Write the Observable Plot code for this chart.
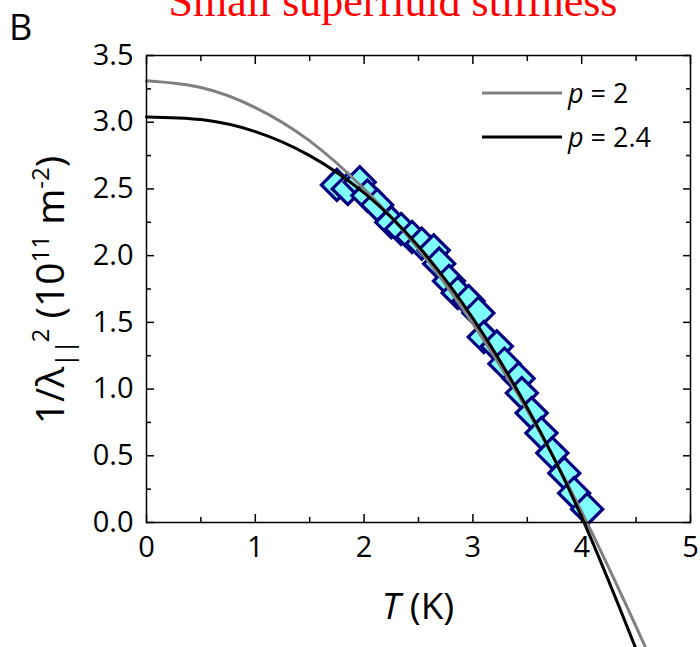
<!DOCTYPE html>
<html><head><meta charset="utf-8">
<script src="https://cdn.jsdelivr.net/npm/d3@7"></script>
<script src="https://cdn.jsdelivr.net/npm/@observablehq/plot@0.6"></script>
<style>
body{margin:0;background:#fff;overflow:hidden}
#wrap{position:relative;width:700px;height:647px;overflow:hidden;background:#fff}
</style></head><body><div id="wrap"></div>
<script>
// measured data: temperature (K) and superfluid stiffness 1/λ² (10^11 m^-2)
const dataT = [1.75, 1.85, 1.96, 2.03, 2.12, 2.25, 2.34, 2.44, 2.53, 2.64, 2.69, 2.78, 2.86, 2.96, 3.05, 3.10, 3.22, 3.29, 3.42, 3.45, 3.54, 3.63, 3.73, 3.84, 3.93, 4.05];
const dataV = [2.53, 2.50, 2.55, 2.45, 2.38, 2.25, 2.20, 2.14, 2.09, 2.04, 1.94, 1.81, 1.72, 1.66, 1.57, 1.39, 1.32, 1.19, 1.08, 0.97, 0.82, 0.67, 0.52, 0.37, 0.22, 0.10];
// fit curves
const fitT2 = [0, 0.5, 1, 1.5, 2, 2.5, 3, 3.5, 4, 4.5, 4.7];
const fitV2 = [3.31, 3.26, 3.11, 2.86, 2.50, 2.05, 1.49, 0.84, 0.08, -0.78, -1.15];
const fitT24 = [0, 0.5, 1, 1.5, 2, 2.5, 3, 3.5, 4, 4.5, 4.6];
const fitV24 = [3.04, 3.02, 2.93, 2.75, 2.47, 2.07, 1.53, 0.86, 0.04, -0.95, -1.16];
// ticks
const xMajor = [0, 1, 2, 3, 4, 5];
const xMinor = [0.5, 1.5, 2.5, 3.5, 4.5];
const yMajor = [0, 0.5, 1, 1.5, 2, 2.5, 3, 3.5];
const yMinor = [0.25, 0.75, 1.25, 1.75, 2.25, 2.75, 3.25];
const legendLabels = ["2", "2.4"];
const legendColors = ["#808080", "#000000"];

const points = dataT.map((t, i) => ({T: t, v: dataV[i]}));
const curve2 = fitT2.map((t, i) => ({T: t, v: fitV2[i]}));
const curve24 = fitT24.map((t, i) => ({T: t, v: fitV24[i]}));

const font = "'Open Sans', sans-serif";
const tickFS = 29;

const chart = Plot.plot({
  width: 700, height: 647,
  marginLeft: 146, marginRight: 10, marginTop: 55, marginBottom: 125,
  style: {fontFamily: font, fontSize: tickFS + "px", color: "black", background: "white", overflow: "visible"},
  x: {domain: [0, 5], label: null},
  y: {domain: [0, 3.5], label: null},
  marks: [
    Plot.dot(points, {x: "T", y: "v", symbol: "diamond2", r: 14, fill: "#80ffff", stroke: "#000080", strokeWidth: 3.2}),
    Plot.line(curve2, {x: "T", y: "v", stroke: legendColors[0], strokeWidth: 3, curve: "natural"}),
    Plot.line(curve24, {x: "T", y: "v", stroke: legendColors[1], strokeWidth: 3, curve: "natural"}),
    Plot.frame({stroke: "black", strokeWidth: 1.5}),
    // bottom axis
    Plot.axisX({ticks: xMajor, tickSize: -8, strokeWidth: 1.5, text: null}),
    Plot.axisX({ticks: xMinor, tickSize: -5, strokeWidth: 1.5, text: null}),
    Plot.axisX({ticks: xMajor, tickSize: 0, tickPadding: 14, fontSize: tickFS, tickFormat: d3.format("d"), label: null}),
    // top axis
    Plot.axisX({anchor: "top", ticks: xMajor, tickSize: -8, strokeWidth: 1.5, text: null, label: null}),
    Plot.axisX({anchor: "top", ticks: xMinor, tickSize: -5, strokeWidth: 1.5, text: null, label: null}),
    // left axis
    Plot.axisY({ticks: yMajor, tickSize: -8, strokeWidth: 1.5, text: null}),
    Plot.axisY({ticks: yMinor, tickSize: -5, strokeWidth: 1.5, text: null}),
    Plot.axisY({ticks: yMajor, tickSize: 0, tickPadding: 13, fontSize: tickFS, tickFormat: d3.format(".1f"), label: null}),
    // right axis
    Plot.axisY({anchor: "right", ticks: yMajor, tickSize: -8, strokeWidth: 1.5, text: null, label: null}),
    Plot.axisY({anchor: "right", ticks: yMinor, tickSize: -5, strokeWidth: 1.5, text: null, label: null})
  ]
});
document.getElementById("wrap").appendChild(chart);

const svg = d3.select(chart);
// title
svg.append("text").attr("x", 393).attr("y", 16).attr("text-anchor", "middle")
  .attr("font-family", "'Liberation Serif', 'Times New Roman', serif").attr("font-size", 44).attr("fill", "red")
  .text("Small superfluid stiffness");
// panel letter
svg.append("text").attr("x", 9).attr("y", 40).attr("text-anchor", "start").attr("font-family", font).attr("font-size", 36).attr("fill", "black").text("B");
// x title
const xt = svg.append("text").attr("x", 418).attr("y", 619).attr("text-anchor", "middle")
  .attr("font-family", font).attr("font-size", 37).attr("fill", "black");
xt.append("tspan").attr("font-style", "italic").text("T");
xt.append("tspan").text(" (K)");
// y title
const yt = svg.append("text").attr("transform", "translate(64,290) rotate(-90)").attr("text-anchor", "middle")
  .attr("font-family", font).attr("font-size", 39).attr("fill", "black");
yt.append("tspan").text("1/λ");
yt.append("tspan").attr("font-size", 24).attr("dy", 9).text("||");
yt.append("tspan").attr("font-size", 24).attr("dy", -24).attr("dx", -2).text("2");
yt.append("tspan").attr("dy", 15).text(" (10");
yt.append("tspan").attr("font-size", 24).attr("dy", -15).text("11");
yt.append("tspan").attr("dy", 15).text(" m");
yt.append("tspan").attr("font-size", 24).attr("dy", -15).text("-2");
yt.append("tspan").attr("dy", 15).text(")");
// legend
legendLabels.forEach((lab, i) => {
  const y = 93 + i * 44;
  svg.append("line").attr("x1", 482).attr("x2", 562).attr("y1", y).attr("y2", y)
    .attr("stroke", legendColors[i]).attr("stroke-width", 3);
  const t = svg.append("text").attr("x", 568).attr("y", y + 10).attr("text-anchor", "start")
    .attr("font-family", font).attr("font-size", 27).attr("fill", "black");
  t.append("tspan").attr("font-style", "italic").text("p");
  t.append("tspan").text(" = " + lab);
});
</script>
</body></html>
